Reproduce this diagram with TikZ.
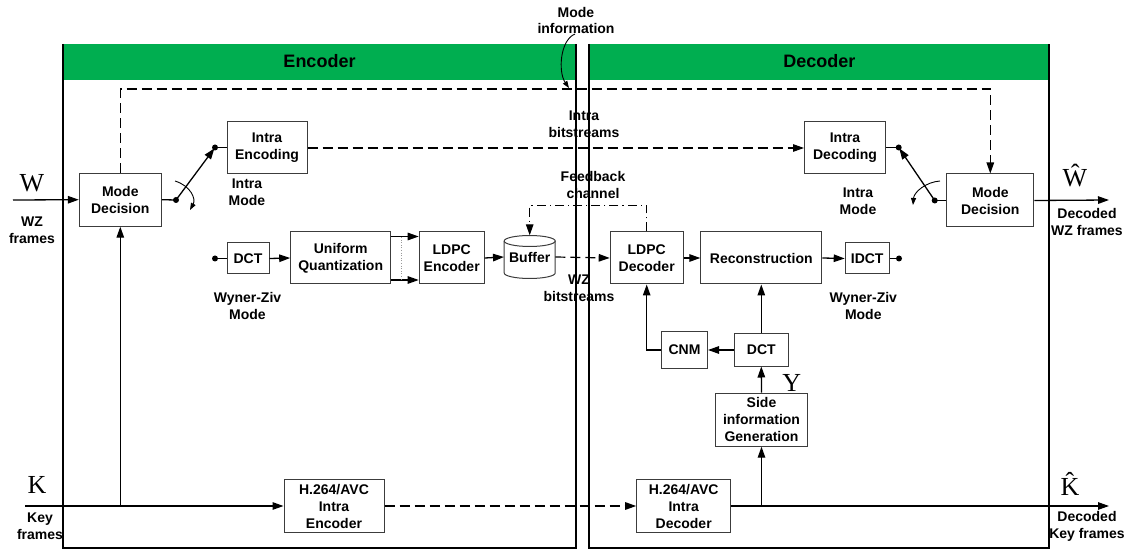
\documentclass[tikz,border=0pt]{standalone}
\usepackage{fontspec}
\setmainfont{Liberation Sans}
\newfontfamily\symserif{Liberation Serif}
\usetikzlibrary{arrows.meta,calc}
\definecolor{hdrgreen}{RGB}{0,174,80}
\definecolor{boxline}{RGB}{60,60,60}
\newcommand{\blkfont}{\fontsize{14}{17}\selectfont\bfseries}
\newcommand{\hdrfont}{\fontsize{18}{21}\selectfont\bfseries}
\newcommand{\varfont}{\fontsize{26}{28}\selectfont\symserif}
\tikzset{
  blk/.style={draw=boxline, line width=1pt, fill=white, align=center, font=\blkfont, inner sep=1pt},
  lbl/.style={align=center, font=\blkfont, inner sep=0pt},
  var/.style={font=\varfont, inner sep=0pt},
  arr/.style={-{Triangle[length=11pt,width=7.5pt]}, line width=1.3pt},
  ln/.style={line width=1.3pt},
  dsh/.style={dash pattern=on 10pt off 5pt, line width=1.2pt},
  dshdot/.style={dash pattern=on 9pt off 4pt on 1.2pt off 4pt, line width=1.2pt},
  jdot/.style={circle, fill=black, minimum size=6pt, inner sep=0pt},
  thinarr/.style={-{Triangle[length=7pt,width=5pt]}, line width=0.9pt},
  panel/.style={line width=1.5pt}
}
\begin{document}
\begin{tikzpicture}[x=1pt,y=-1pt]
\useasboundingbox (0,0) rectangle (1130,553);
% panels
\fill[hdrgreen] (63,44) rectangle (576,80);
\fill[hdrgreen] (589,44) rectangle (1049,80);
\draw[panel] (63,44) -- (63,548) -- (576,548) -- (576,44);
\draw[panel] (589,44) -- (589,548) -- (1049,548) -- (1049,44);
\node[font=\hdrfont] (enchdr) at (319.5,61) {Encoder};
\node[font=\hdrfont] (dechdr) at (819.3,61) {Decoder};

% blocks
\node[blk, minimum width=82pt, minimum height=53pt] (md1) at (120.3,199.7) {Mode\\Decision};
\node[blk, minimum width=80pt, minimum height=52pt] (ienc) at (267,148) {Intra\\Encoding};
\node[blk, minimum width=81pt, minimum height=52pt] (idec) at (845,148) {Intra\\Decoding};
\node[blk, minimum width=87pt, minimum height=53pt] (md2) at (990.3,200.5) {Mode\\Decision};
\node[blk, minimum width=42pt, minimum height=31pt] (dct1) at (248,258.5) {DCT};
\node[blk, minimum width=100pt, minimum height=52pt] (uq) at (340.7,258) {Uniform\\Quantization};
\node[blk, minimum width=65pt, minimum height=52pt] (ldpce) at (451.7,258) {LDPC\\Encoder};
\node[lbl, minimum width=51pt, minimum height=43pt] (buf) at (529.7,257) {Buffer};
\node[blk, minimum width=73pt, minimum height=52pt] (ldpcd) at (646.7,258) {LDPC\\Decoder};
\node[blk, minimum width=121pt, minimum height=52pt] (rec) at (761.3,258) {Reconstruction};
\node[blk, minimum width=44pt, minimum height=31pt] (idct) at (867.2,258.5) {IDCT};
\node[blk, minimum width=46pt, minimum height=37pt] (cnm) at (684.5,350) {CNM};
\node[blk, minimum width=54pt, minimum height=32pt] (dct2) at (761.3,350) {DCT};
\node[blk, minimum width=92pt, minimum height=53pt] (sig) at (761.5,419.7) {Side\\information\\Generation};
\node[blk, minimum width=100pt, minimum height=53pt] (h264e) at (334,506) {H.264/AVC\\Intra\\Encoder};
\node[blk, minimum width=94pt, minimum height=53pt] (h264d) at (683.7,506) {H.264/AVC\\Intra\\Decoder};

% buffer cylinder
\draw[boxline, line width=1pt] (529.7,241) ellipse [x radius=25.5, y radius=5.5];
\draw[boxline, line width=1pt] (504.2,241) -- (504.2,273) arc[start angle=180, end angle=0, x radius=25.5, y radius=5.5] -- (555.2,241);

% junction dots and free ends
\node[jdot] (sw1) at (176,200) {};
\node[jdot] (sw1b) at (215,147.5) {};
\node[jdot] (sw2) at (934.7,200.5) {};
\node[jdot] (sw2b) at (898.7,147.5) {};
\node[jdot] (dctin) at (215,258.5) {};
\node[jdot] (idctout) at (899,258.5) {};
\coordinate (win) at (13,200);
\coordinate (wout) at (1109,200);
\coordinate (kin) at (25,506);
\coordinate (kout) at (1109,506);
\coordinate (kj) at (120.3,506);
\coordinate (kdj) at (761.5,506);

% W path
\draw[arr] (win) -- (md1.west);
\draw[ln] (md1.east) -- (sw1.center);
\draw[arr, shorten >=1pt] (sw1.center) -- (sw1b.center);
\draw[ln] (sw1b.center) -- (sw1b -| ienc.west);
\draw[dsh, -{Triangle[length=11pt,width=7.5pt]}] (ienc.east) -- (idec.west);
\draw[ln] (idec.east |- sw2b) -- (sw2b.center);
\draw[arr, shorten >=1pt] (sw2.center) -- (sw2b.center);
\draw[ln] (sw2.center) -- (md2.west);
\draw[arr] (md2.east) -- (wout);
% switch curved arrows
\draw[thinarr] (175,181) .. controls (191,186) and (196,199) .. (190,210);
\draw[thinarr] (940,181) .. controls (926,182) and (914,192) .. (913,205);
% mode information dashed
\draw[dsh, -{Triangle[length=11pt,width=7.5pt]}] (md1.north) -- (120.3,89) -- (990.3,89) -- (md2.north);
\draw[thinarr] (575,34) .. controls (560,40) and (558,72) .. (569,88);

% WZ path
\draw[ln] (dctin.center) -- (dct1.west);
\draw[arr] (dct1.east) -- (uq.west);
\draw[arr] ([yshift=21.5pt]uq.east) -- ([yshift=21.5pt]ldpce.west);
\draw[arr] ([yshift=-22pt]uq.east) -- ([yshift=-22pt]ldpce.west);
\draw[black!40, dotted, line width=0.6pt] (401.7,237) -- (401.7,280);
\draw[arr] (ldpce.east) -- (buf.west);
\draw[dsh, -{Triangle[length=11pt,width=7.5pt]}] (buf.east) -- (ldpcd.west);
\draw[dshdot, -{Triangle[length=11pt,width=7.5pt]}] (ldpcd.north) -- (646.7,205.3) -- (529.7,205.3) -- (buf.north);
\draw[arr] (ldpcd.east) -- (rec.west);
\draw[arr] (rec.east) -- (idct.west);
\draw[ln] (idct.east) -- (idctout.center);
\draw[arr] (dct2.north) -- (rec.south -| dct2.north);
\draw[arr] (dct2.west) -- (cnm.east);
\draw[arr] (cnm.west) -- (cnm.west -| ldpcd.south) -- (ldpcd.south);
\draw[arr] (sig.north) -- (dct2.south);

% key frames path
\draw[arr] (kin) -- (h264e.west);
\draw[arr] (kj) -- (md1.south);
\draw[dsh, -{Triangle[length=11pt,width=7.5pt]}] (h264e.east) -- (h264d.west);
\draw[arr] (h264d.east) -- (kout);
\draw[arr] (kdj) -- (sig.south);

% labels
\node[lbl] (lmi) at (576,20.5) {Mode\\information};
\node[lbl] (lib) at (584,124.5) {Intra\\bitstreams};
\node[lbl] (lfc) at (593,185) {Feedback\\channel};
\node[lbl] (lwzb) at (579,288.5) {WZ\\bitstreams};
\node[lbl] (lim1) at (247,192.5) {Intra\\Mode};
\node[lbl] (lim2) at (858,201.5) {Intra\\Mode};
\node[lbl] (lwm1) at (247.5,306) {Wyner-Ziv\\Mode};
\node[lbl] (lwm2) at (863.3,306) {Wyner-Ziv\\Mode};
\node[lbl] (lwzf) at (32,230.5) {WZ\\frames};
\node[lbl] (lkf) at (40,526) {Key\\frames};
\node[lbl] (ldwz) at (1087,222) {Decoded\\WZ frames};
\node[lbl] (ldkf) at (1087,526) {Decoded\\Key frames};
\node[var] (vw) at (32,183) {W};
\node[var] (vk) at (37,485) {K};
\node[var] (vy) at (791.7,383) {Y};
\node[var] (vwh) at (1075,176) {\^{W}};
\node[var] (vkh) at (1070,484) {\^{K}};
\end{tikzpicture}
\end{document}
